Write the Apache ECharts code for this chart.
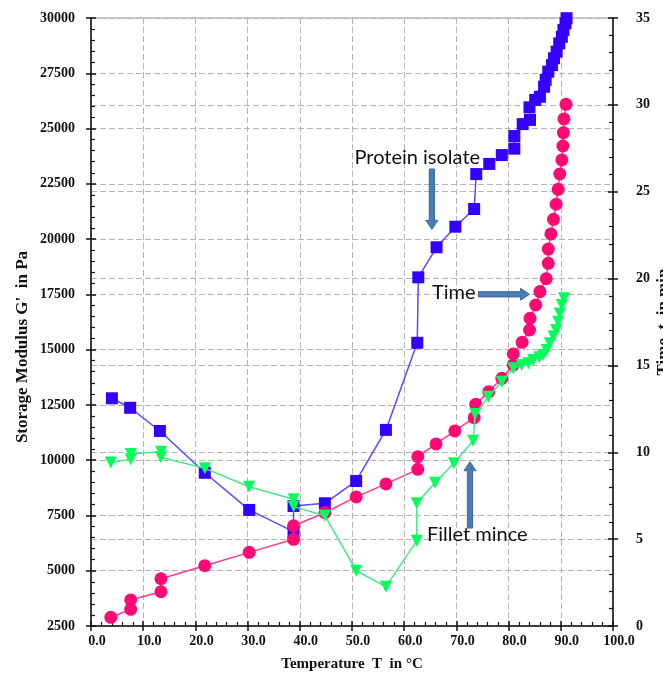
<!DOCTYPE html>
<html><head><meta charset="utf-8">
<script src="https://cdn.jsdelivr.net/npm/echarts@6/dist/echarts.min.js"></script>
<style>html,body{margin:0;padding:0;background:#fff}#c{width:663px;height:673px}</style>
</head><body><div id="c"></div>
<script>
// ---- data ----
const proteinT = [4.0, 7.5, 13.2, 21.8, 30.3, 38.8, 38.8, 44.8, 50.8, 56.5, 62.5, 62.7, 66.2, 69.8, 73.4, 73.8, 76.3, 78.7, 81.1, 81.1, 82.7, 84.1, 84.0, 85.1, 86.0, 86.8, 87.1, 87.6, 88.3, 88.7, 89.2, 89.7, 90.2, 90.5, 90.9, 91.1];
const proteinG = [12800, 12370, 11320, 9430, 7750, 6770, 7930, 8050, 9060, 11370, 15310, 18270, 19630, 20560, 21360, 22940, 23400, 23800, 24090, 24660, 25200, 25390, 25960, 26290, 26440, 26890, 27200, 27570, 27870, 28180, 28480, 28850, 29150, 29460, 29760, 29990];

const filletT = [3.8, 7.6, 7.6, 13.4, 13.4, 21.8, 30.3, 38.8, 38.8, 44.8, 50.8, 56.5, 62.4, 62.4, 65.9, 69.5, 73.2, 73.6, 76.1, 78.7, 80.9, 82.5, 83.8, 84.7, 85.9, 86.6, 87.3, 87.9, 88.6, 89.1, 89.5, 89.8, 90.2, 90.6];
const filletG = [9890, 10040, 10280, 10380, 10130, 9630, 8800, 8230, 7900, 7490, 5000, 4280, 6360, 8050, 8980, 9860, 10880, 12090, 12870, 13550, 14160, 14300, 14380, 14530, 14650, 14760, 14980, 15290, 15590, 15890, 16260, 16640, 17020, 17320];

const timeT = [3.8, 7.6, 7.6, 13.4, 13.4, 21.8, 30.3, 38.8, 38.8, 44.8, 50.8, 56.5, 62.6, 62.6, 66.1, 69.7, 73.4, 73.7, 76.2, 78.7, 80.9, 80.9, 82.6, 84.0, 84.1, 85.2, 86.0, 87.2, 87.6, 87.6, 88.1, 88.6, 89.1, 89.5, 89.8, 90.2, 90.4, 90.5, 90.6, 91.0];
const timeMin = [0.50, 0.96, 1.50, 1.97, 2.72, 3.47, 4.24, 4.99, 5.77, 6.52, 7.43, 8.18, 9.02, 9.75, 10.48, 11.23, 11.99, 12.76, 13.49, 14.26, 15.03, 15.66, 16.33, 17.04, 17.71, 18.48, 19.25, 19.99, 20.88, 21.70, 22.57, 23.41, 24.28, 25.14, 26.02, 26.83, 27.63, 28.40, 29.19, 30.03];

const axisTitles = ['Temperature  T  in \u00B0C', "Storage Modulus G'  in Pa", 'Time  t  in min'];
const annotationTexts = ['Protein isolate', 'Time', 'Fillet mince'];
const annotationAt = [[62.5, 23668], [69.5, 17560], [74.0, 6616]];   // [T, G'] data coords
const arrowTail = [[65.3, 23170], [74.2, 17503], [72.6, 6933]];
const arrowTip  = [[65.3, 20440], [84.0, 17503], [72.6, 9931]];

const pairs = (xs, ys) => xs.map((x, i) => [x, ys[i]]);

const serif = '"Liberation Serif", "Times New Roman", serif';
const split = { show: true, lineStyle: { color: '#b4b4b4', type: [6, 3], width: 1 } };
const lblStyle = { fontFamily: serif, fontWeight: 'bold', fontSize: 14, color: '#111' };
const axLine = { show: true, lineStyle: { color: '#111', width: 1.5 } };

const chart = echarts.init(document.getElementById('c'), null, { renderer: 'canvas' });

const gridBox = { left: 91, right: 50, top: 18, bottom: 47, outerBoundsMode: 'none' };

chart.setOption({
  animation: false,
  backgroundColor: '#fff',
  grid: [
    Object.assign({ show: true, borderColor: '#9a9a9a', borderWidth: 1, backgroundColor: 'transparent' }, gridBox),
    Object.assign({ show: false }, gridBox)
  ],
  xAxis: [
    {
      type: 'value', gridIndex: 0, min: 0, max: 100, interval: 10, position: 'bottom',
      axisLine: axLine,
      axisTick: { show: true, inside: true, length: 5, lineStyle: { color: '#111', width: 1.5 } },
      minorTick: { show: true, splitNumber: 5, length: 4, lineStyle: { color: '#111', width: 1.2 } },
      axisLabel: Object.assign({ margin: 8, padding: [0, 0, 0, 12], formatter: v => v.toFixed(1) }, lblStyle),
      splitLine: split,
      name: axisTitles[0], nameLocation: 'middle', nameGap: 31, nameMoveOverlap: false,
      nameTextStyle: { fontFamily: serif, fontWeight: 'bold', fontSize: 15, color: '#111' }
    },
    {
      type: 'value', gridIndex: 1, min: 0, max: 100, interval: 10, position: 'bottom',
      axisLine: { show: false }, axisLabel: { show: false }, splitLine: { show: false },
      axisTick: { show: true, inside: false, length: 5, lineStyle: { color: '#111', width: 1.5 } }
    }
  ],
  yAxis: [
    {
      type: 'value', gridIndex: 0, min: 2500, max: 30000, interval: 2500, position: 'left',
      axisLine: axLine,
      axisTick: { show: true, inside: true, length: 5, lineStyle: { color: '#111', width: 1.5 } },
      minorTick: { show: true, splitNumber: 5, length: 4, lineStyle: { color: '#111', width: 1.2 } },
      axisLabel: Object.assign({ margin: 16, formatter: v => String(v) }, lblStyle),
      splitLine: split,
      name: axisTitles[1], nameLocation: 'middle', nameGap: 60, nameMoveOverlap: false,
      nameTextStyle: { fontFamily: serif, fontWeight: 'bold', fontSize: 17, color: '#111', padding: [0, 50, 0, 0] }
    },
    {
      type: 'value', gridIndex: 0, min: 0, max: 35, interval: 5, position: 'right',
      axisLine: axLine,
      axisTick: { show: true, inside: true, length: 5, lineStyle: { color: '#111', width: 1.5 } },
      minorTick: { show: true, splitNumber: 5, length: 4, lineStyle: { color: '#111', width: 1.2 } },
      axisLabel: Object.assign({ margin: 23, formatter: v => String(v) }, lblStyle),
      splitLine: split,
      name: axisTitles[2], nameLocation: 'middle', nameGap: 42, nameMoveOverlap: false,
      nameTextStyle: { fontFamily: serif, fontWeight: 'bold', fontSize: 17, color: '#111' }
    },
    {
      type: 'value', gridIndex: 1, min: 2500, max: 30000, interval: 2500, position: 'left',
      axisLine: { show: false }, axisLabel: { show: false }, splitLine: { show: false },
      axisTick: { show: true, inside: false, length: 5, lineStyle: { color: '#111', width: 1.5 } }
    },
    {
      type: 'value', gridIndex: 1, min: 0, max: 35, interval: 5, position: 'right',
      axisLine: { show: false }, axisLabel: { show: false }, splitLine: { show: false },
      axisTick: { show: true, inside: false, length: 5, lineStyle: { color: '#111', width: 1.5 } }
    }
  ],
  series: [
    {
      name: 'Protein isolate', type: 'line', xAxisIndex: 0, yAxisIndex: 0,
      data: pairs(proteinT, proteinG),
      symbol: 'rect', symbolSize: 12, showAllSymbol: true,
      itemStyle: { color: '#3300ff' },
      lineStyle: { color: '#5a48ff', width: 1.5 }, z: 2
    },
    {
      name: 'Time', type: 'line', xAxisIndex: 0, yAxisIndex: 1,
      data: pairs(timeT, timeMin),
      symbol: 'circle', symbolSize: 13, showAllSymbol: true,
      itemStyle: { color: '#ff0a74' },
      lineStyle: { color: '#ff3a88', width: 1.5 }, z: 3
    },
    {
      name: 'Fillet mince', type: 'line', xAxisIndex: 0, yAxisIndex: 0,
      data: pairs(filletT, filletG),
      symbol: 'triangle', symbolRotate: 180, symbolSize: 12, showAllSymbol: true,
      itemStyle: { color: '#00ff5a' },
      lineStyle: { color: '#40ec84', width: 1.5 }, z: 4
    }
  ]
});

// ---- annotations placed through the chart's own scales ----
function toPx(p) { return chart.convertToPixel({ xAxisIndex: 0, yAxisIndex: 0 }, p); }
function arrowPoly(a, b) {
  const dx = b[0] - a[0], dy = b[1] - a[1];
  const L = Math.hypot(dx, dy), ux = dx / L, uy = dy / L, nx = -uy, ny = ux;
  const sw = 2.6, hw = 6, hl = 9;
  const bx = b[0] - ux * hl, by = b[1] - uy * hl;
  return [
    [a[0] + nx * sw, a[1] + ny * sw], [bx + nx * sw, by + ny * sw], [bx + nx * hw, by + ny * hw],
    [b[0], b[1]],
    [bx - nx * hw, by - ny * hw], [bx - nx * sw, by - ny * sw], [a[0] - nx * sw, a[1] - ny * sw]
  ];
}
const g = [];
annotationTexts.forEach((t, i) => {
  const p = toPx(annotationAt[i]);
  g.push({
    type: 'text', x: p[0], y: p[1], z: 10,
    style: { text: t, fill: '#111', font: '20px Lato, "Liberation Sans", sans-serif', align: 'center', verticalAlign: 'middle' }
  });
  g.push({
    type: 'polygon', z: 10,
    shape: { points: arrowPoly(toPx(arrowTail[i]), toPx(arrowTip[i])) },
    style: { fill: '#4a7db5', stroke: '#3b6893', lineWidth: 1 }
  });
});
chart.setOption({ graphic: g });
</script>
</body></html>
